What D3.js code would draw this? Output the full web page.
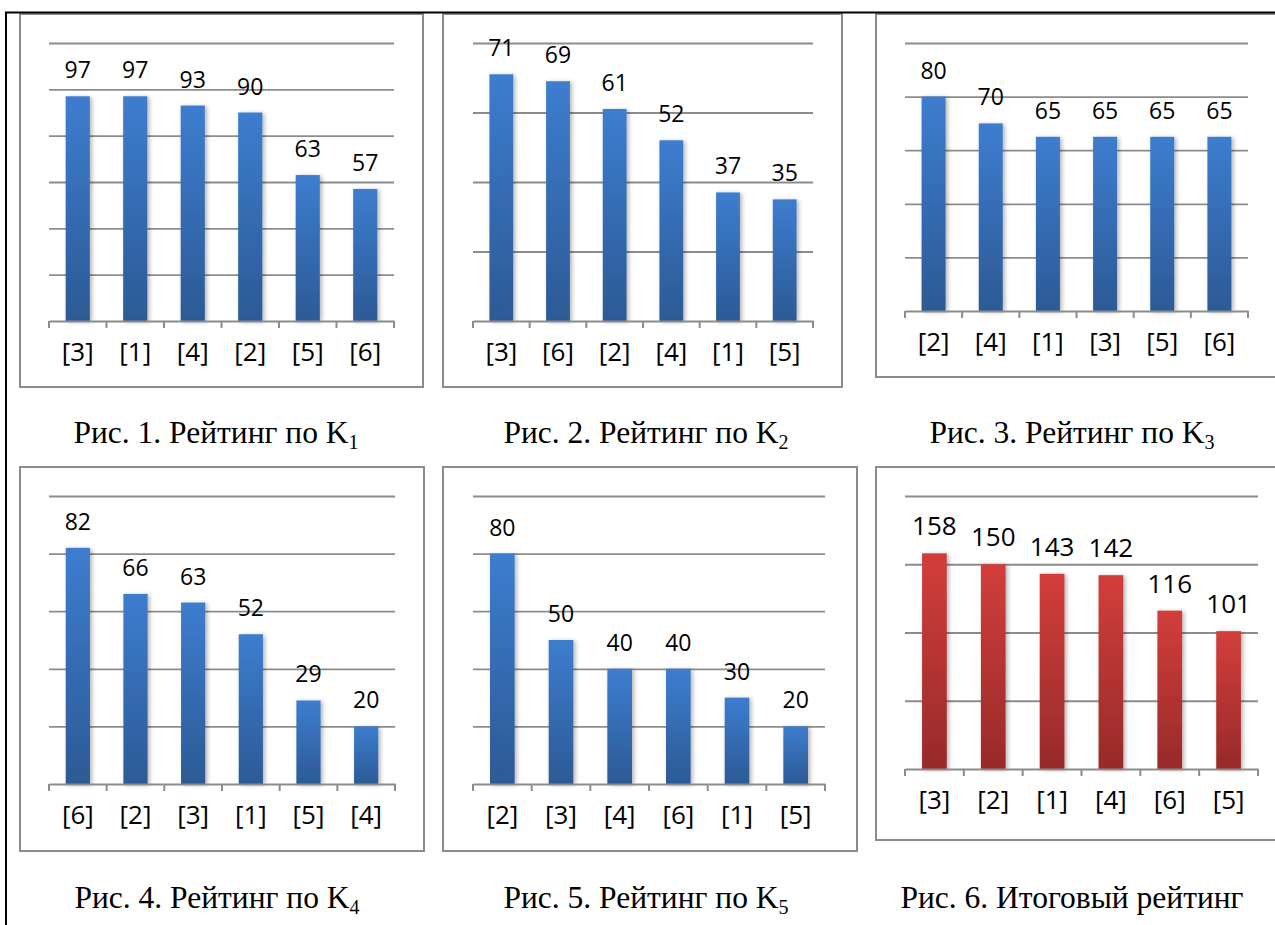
<!DOCTYPE html>
<html>
<head>
<meta charset="utf-8">
<script src="https://cdn.jsdelivr.net/npm/d3@7/dist/d3.min.js"></script>
<style>
  body { margin: 0; background: #fff; }
  svg { display: block; }
</style>
</head>
<body>
<div id="plot"></div>
<script>
// data
const cats1 = ['[3]','[1]','[4]','[2]','[5]','[6]']
const vals1 = [97, 97, 93, 90, 63, 57]
const cats2 = ['[3]','[6]','[2]','[4]','[1]','[5]']
const vals2 = [71, 69, 61, 52, 37, 35]
const cats3 = ['[2]','[4]','[1]','[3]','[5]','[6]']
const vals3 = [80, 70, 65, 65, 65, 65]
const cats4 = ['[6]','[2]','[3]','[1]','[5]','[4]']
const vals4 = [82, 66, 63, 52, 29, 20]
const cats5 = ['[2]','[3]','[4]','[6]','[1]','[5]']
const vals5 = [80, 50, 40, 40, 30, 20]
const cats6 = ['[3]','[2]','[1]','[4]','[6]','[5]']
const vals6 = [158, 150, 143, 142, 116, 101]
const yMax = [120, 80, 100, 100, 100, 200]
const yStep = [20, 20, 20, 20, 20, 50]
const captions = ['Рис. 1. Рейтинг по K', 'Рис. 2. Рейтинг по K', 'Рис. 3. Рейтинг по K',
                  'Рис. 4. Рейтинг по K', 'Рис. 5. Рейтинг по K', 'Рис. 6. Итоговый рейтинг']
const subs = ['1', '2', '3', '4', '5', '']

const W = 1275, H = 925

const svg = d3.select('#plot').append('svg')
  .attr('width', W).attr('height', H)

const defs = svg.append('defs')
const grads = {blue: ['#3d7dcf', '#2c5a95'], red: ['#d23e3b', '#982a2a']}
Object.keys(grads).forEach(k => {
  const g = defs.append('linearGradient').attr('id', 'g-' + k)
    .attr('x1', 0).attr('y1', 0).attr('x2', 0).attr('y2', 1)
  g.append('stop').attr('offset', '0%').attr('stop-color', grads[k][0])
  g.append('stop').attr('offset', '100%').attr('stop-color', grads[k][1])
})
defs.append('filter').attr('id', 'shadow')
  .attr('x', '-30%').attr('y', '-10%').attr('width', '170%').attr('height', '130%')
  .append('feDropShadow')
    .attr('dx', 2).attr('dy', 1).attr('stdDeviation', 2)
    .attr('flood-color', '#000').attr('flood-opacity', 0.3)

// frame box, plot area, caption centre and label sizes for each panel
const panels = [
  {frame: [20, 14, 423, 387],  plot: [49, 43, 394, 321],   cap: [216, 443], vfs: 23},
  {frame: [443, 14, 842, 387], plot: [473, 43, 813, 321],  cap: [646, 443], vfs: 23},
  {frame: [876, 14, 1290, 377], plot: [905, 43, 1248, 311], cap: [1072, 443], vfs: 23},
  {frame: [20, 467, 424, 851], plot: [49, 496, 395, 784],  cap: [217, 908], vfs: 23},
  {frame: [443, 467, 857, 851], plot: [473, 496, 825, 784], cap: [646, 908], vfs: 23},
  {frame: [876, 467, 1290, 840], plot: [905, 496, 1258, 769], cap: [1072, 908], vfs: 26}
]
const allCats = [cats1, cats2, cats3, cats4, cats5, cats6]
const allVals = [vals1, vals2, vals3, vals4, vals5, vals6]

const drawPanel = function(i) {
  const p = panels[i]
  const cats = allCats[i], vals = allVals[i]
  const color = i === 5 ? 'red' : 'blue'

  svg.append('rect')
    .attr('x', p.frame[0]).attr('y', p.frame[1])
    .attr('width', p.frame[2] - p.frame[0]).attr('height', p.frame[3] - p.frame[1])
    .attr('fill', 'none').attr('stroke', '#8c8c8c').attr('stroke-width', 2)

  const x = d3.scaleBand().domain(cats).range([p.plot[0], p.plot[2]]).padding(0)
  const y = d3.scaleLinear().domain([0, yMax[i]]).range([p.plot[3], p.plot[1]])
  const w = p.plot[2] - p.plot[0]

  // gridlines
  const grid = svg.append('g')
    .attr('transform', `translate(${p.plot[0]},0)`)
    .call(d3.axisLeft(y).tickValues(d3.range(yStep[i], yMax[i] + 1, yStep[i])).tickSize(-w).tickFormat(''))
  grid.select('.domain').remove()
  grid.selectAll('line').attr('stroke', '#8c8c8c').attr('stroke-width', 1.8)

  // bars
  const bw = x.bandwidth() * 0.42
  svg.append('g').selectAll('rect')
    .data(vals)
    .enter()
    .append('rect')
      .attr('x', (d, j) => x(cats[j]) + (x.bandwidth() - bw) / 2)
      .attr('y', d => y(d))
      .attr('width', bw)
      .attr('height', d => y(0) - y(d))
      .attr('fill', `url(#g-${color})`)
      .attr('filter', 'url(#shadow)')

  // value labels
  svg.append('g').selectAll('text')
    .data(vals)
    .enter()
    .append('text')
      .attr('x', (d, j) => x(cats[j]) + x.bandwidth() / 2)
      .attr('y', d => y(d) - 18)
      .attr('text-anchor', 'middle')
      .style('font-family', '"Open Sans", sans-serif')
      .style('font-size', p.vfs + 'px')
      .attr('fill', '#000')
      .text(d => d)

  // category axis
  const ax = svg.append('g')
    .attr('transform', `translate(0,${y(0)})`)
    .call(d3.axisBottom(x).tickSize(0).tickPadding(22))
  ax.select('.domain').attr('stroke', '#8c8c8c').attr('stroke-width', 2)
  ax.selectAll('text')
    .style('font-family', '"Open Sans", sans-serif')
    .style('font-size', '26px')
    .attr('fill', '#000')
  const edges = cats.map(c => x(c)).concat([p.plot[2]])
  ax.selectAll('.edge')
    .data(edges)
    .enter()
    .append('line')
      .attr('x1', d => d).attr('x2', d => d)
      .attr('y1', 0).attr('y2', 7)
      .attr('stroke', '#8c8c8c').attr('stroke-width', 2)

  // caption
  const t = svg.append('text')
    .attr('x', p.cap[0]).attr('y', p.cap[1])
    .attr('text-anchor', 'middle')
    .style('font-family', '"Liberation Serif", "Times New Roman", serif')
    .style('font-size', '31.5px')
    .attr('fill', '#000')
  t.append('tspan').text(captions[i])
  if (subs[i]) {
    t.append('tspan').attr('dy', 6).style('font-size', '20px').text(subs[i])
  }
}

d3.range(6).forEach(drawPanel)

// table borders
svg.append('line').attr('x1', 5).attr('x2', W).attr('y1', 12.5).attr('y2', 12.5)
  .attr('stroke', '#000').attr('stroke-width', 2)
svg.append('line').attr('x1', 6).attr('x2', 6).attr('y1', 12).attr('y2', H)
  .attr('stroke', '#000').attr('stroke-width', 2)
</script>
</body>
</html>
